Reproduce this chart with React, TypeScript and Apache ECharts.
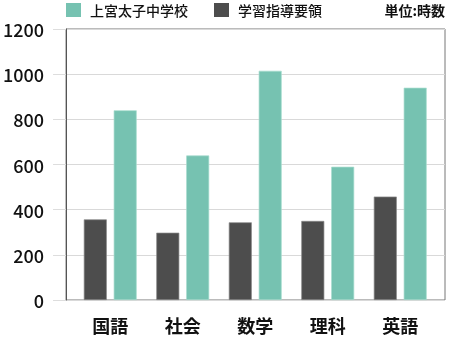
import React, { useEffect, useRef } from "react";
import * as echarts from "echarts";

const categories = ["国語", "社会", "数学", "理科", "英語"];
const schoolName = "上宮太子中学校";
const guideName = "学習指導要領";
const schoolHours = [840, 640, 1015, 590, 940];
const guideHours = [357, 298, 344, 350, 458];
const yTicks = { min: 0, max: 1200, interval: 200 };
const unitLabel = "単位:時数";

const FONT = '"Noto Sans CJK JP", "Noto Sans", sans-serif';
const GREEN = "#76c2b1";
const DARK = "#4d4d4d";

export default function App() {
  const ref = useRef<HTMLDivElement>(null);
  useEffect(() => {
    if (!ref.current) return;
    const chart = echarts.init(ref.current, null, { renderer: "svg" });
    chart.setOption({
      animation: false,
      textStyle: { fontFamily: FONT },
      title: {
        text: unitLabel,
        right: 5,
        top: 3,
        padding: 0,
        textStyle: { fontSize: 14, fontWeight: "bold", color: "#111", fontFamily: FONT },
      },
      legend: {
        data: [schoolName, guideName],
        left: 66,
        top: 3,
        padding: 0,
        itemWidth: 15,
        itemHeight: 14,
        itemGap: 26,
        icon: "rect",
        itemStyle: { borderWidth: 0 },
        textStyle: { fontSize: 14, fontWeight: 500, color: "#111", fontFamily: FONT, padding: [0, 0, 0, 4] },
      },
      grid: [
        { left: 66, top: 29, width: 379, height: 271, show: true, borderColor: "#777", borderWidth: 1, backgroundColor: "transparent" },
        { left: 74, top: 29, width: 362.5, height: 271 },
      ],
      xAxis: [
        { type: "category", gridIndex: 0, data: categories, show: false },
        {
          type: "category",
          gridIndex: 1,
          data: categories,
          axisLine: { show: false },
          axisTick: { show: false },
          axisLabel: { fontSize: 18, fontWeight: "bold", color: "#111", margin: 16, fontFamily: FONT },
        },
      ],
      yAxis: [
        {
          type: "value",
          gridIndex: 0,
          min: yTicks.min,
          max: yTicks.max,
          interval: yTicks.interval,
          axisLine: { show: true, lineStyle: { color: "#555", width: 1 } },
          axisTick: { show: true, length: 13, lineStyle: { color: "#ddd" } },
          splitLine: { show: true, lineStyle: { color: "#d9d9d9" } },
          axisLabel: {
            fontSize: 18,
            fontWeight: 500,
            color: "#111",
            margin: 22,
            fontFamily: FONT,
            formatter: (v: number) => String(v),
          },
        },
        { type: "value", gridIndex: 1, min: yTicks.min, max: yTicks.max, interval: yTicks.interval, show: false },
      ],
      series: [
        {
          name: guideName,
          type: "bar",
          xAxisIndex: 1,
          yAxisIndex: 1,
          data: guideHours,
          barWidth: 23,
          barGap: "30%",
          itemStyle: { color: DARK, borderColor: "#8a8a8a", borderWidth: 0.7 },
        },
        {
          name: schoolName,
          type: "bar",
          xAxisIndex: 1,
          yAxisIndex: 1,
          data: schoolHours,
          barWidth: 23,
          barGap: "30%",
          itemStyle: { color: GREEN, borderColor: "#a8dccf", borderWidth: 0.7 },
        },
      ],
    });
    return () => chart.dispose();
  }, []);
  return <div ref={ref} style={{ position: "fixed", left: 0, top: 0, width: 450, height: 360 }} />;
}
